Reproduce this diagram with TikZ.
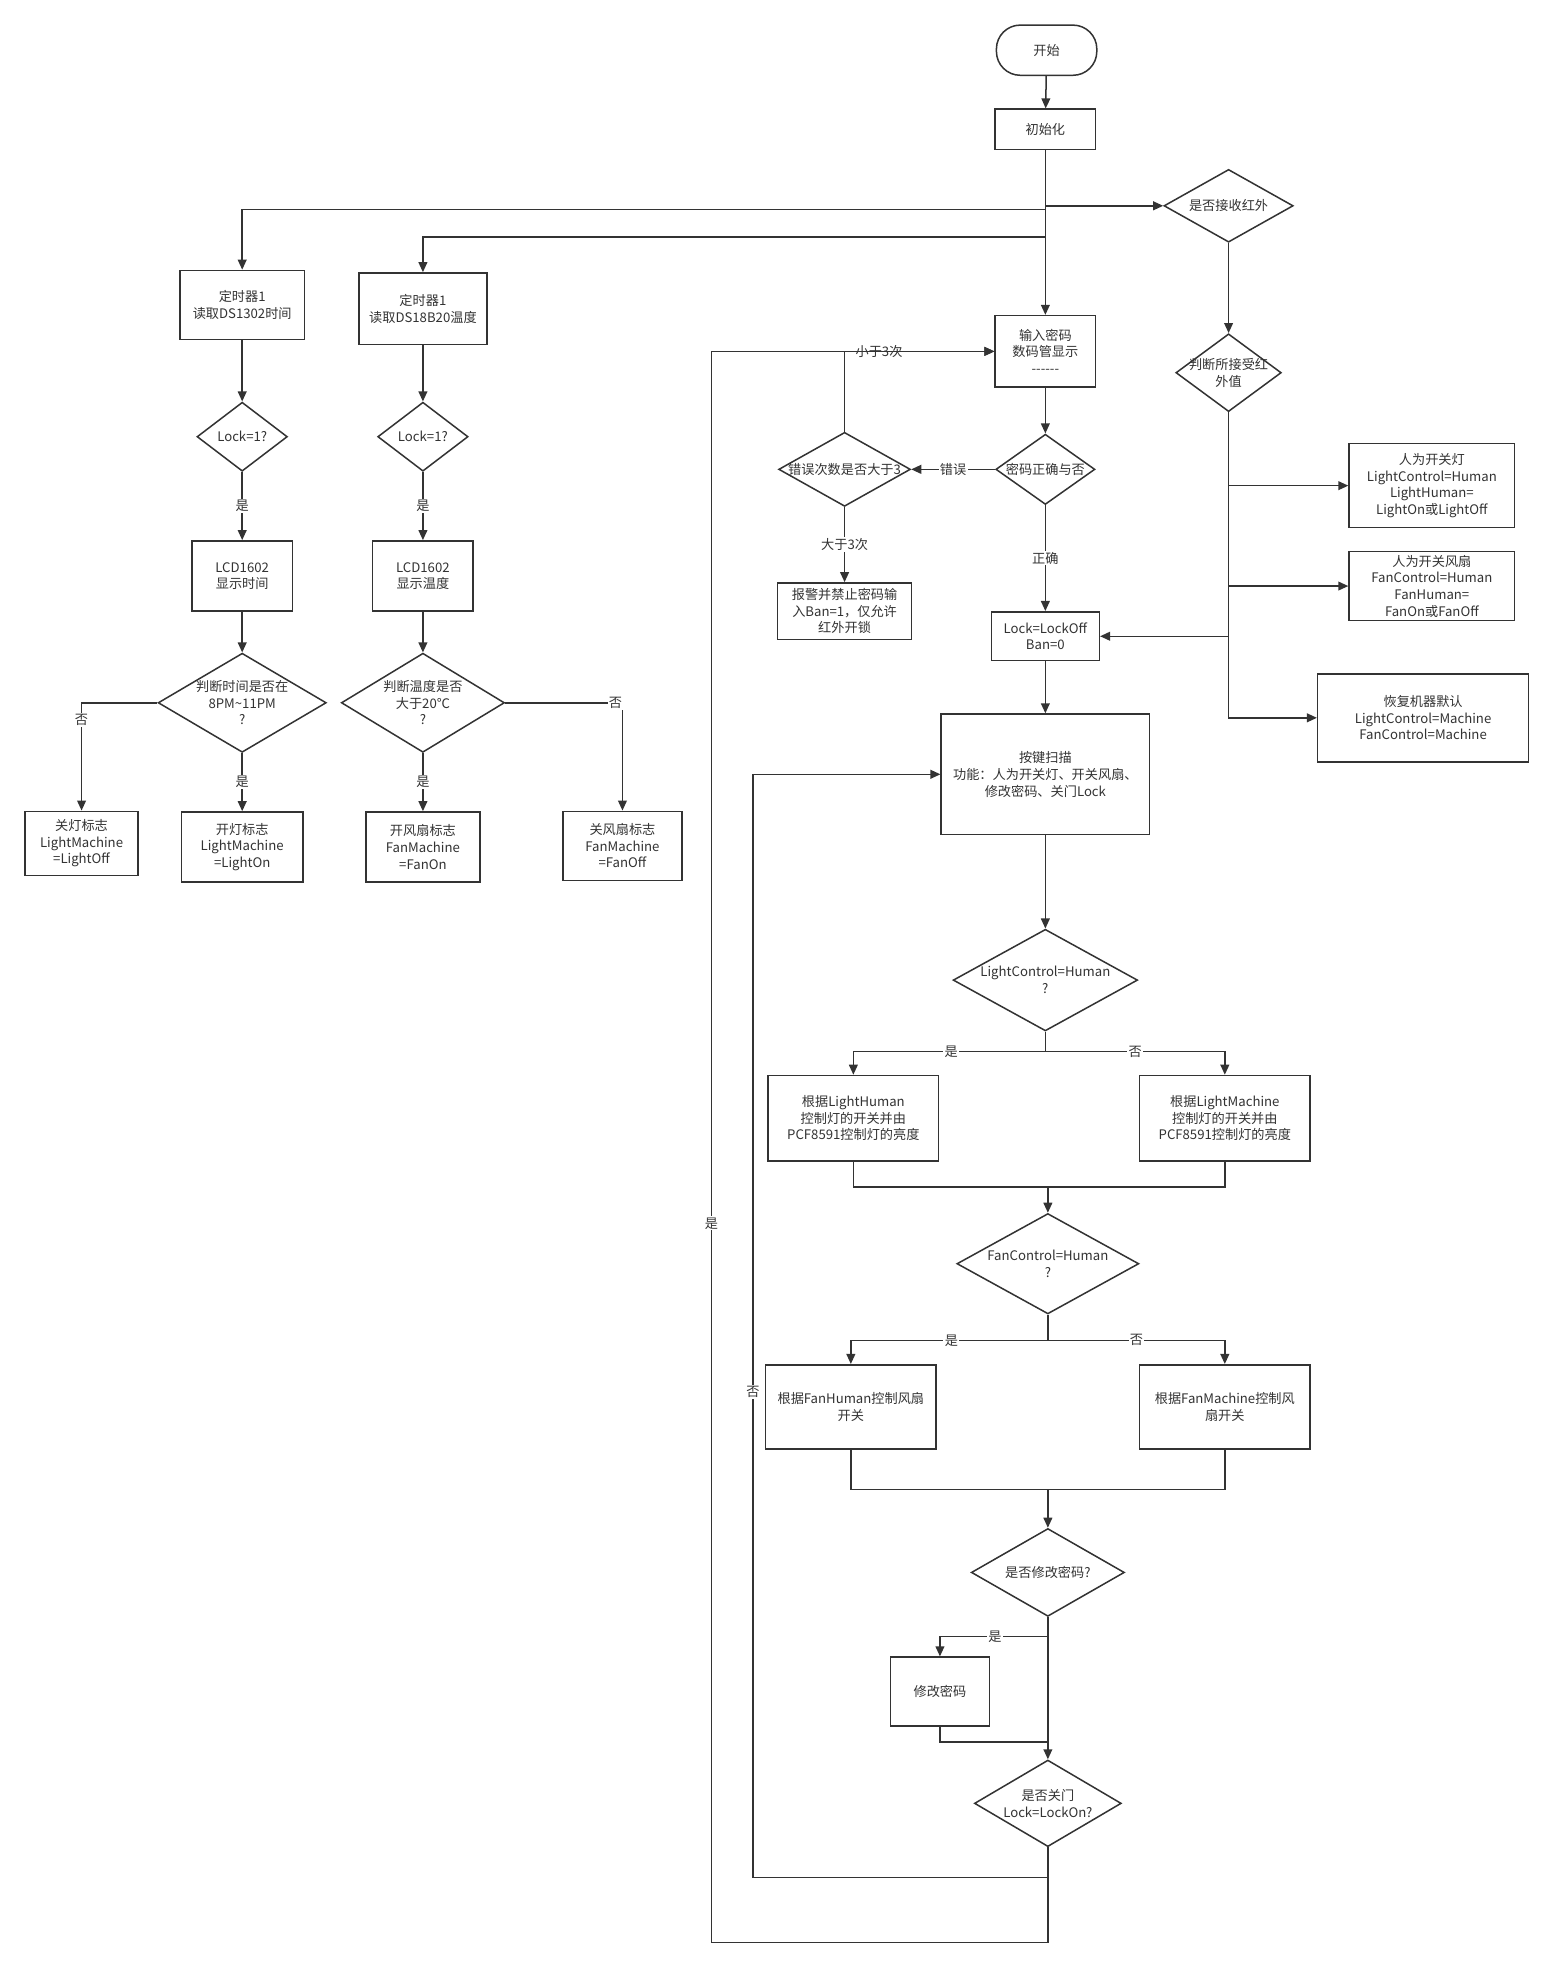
\documentclass[tikz,border=0pt]{standalone}
\usepackage{fontspec}
\setmainfont{Noto Sans CJK SC}
\usetikzlibrary{shapes.geometric, arrows.meta}
\definecolor{ink}{HTML}{333333}

\begin{document}
\begin{tikzpicture}[x=1pt, y=-1pt, >={Triangle[length=8pt, width=7pt]},
    line width=1.2pt, color=ink, font=\fontsize{10.5}{13.3}\selectfont,
    proc/.style={draw, rectangle, align=center, inner sep=2pt},
    term/.style={draw, rectangle, rounded corners=19pt, align=center},
    decide/.style={draw, diamond, inner sep=0pt},
    lbl/.style={fill=white, inner sep=1pt}] % Setting global styles

    \fill[white, use as bounding box] (0,0) rectangle (1240,1573);

    % 1. Start, init and the password entry
    \node[term, minimum width=80, minimum height=40] (start) at (834,40) {开始};
    \node[proc, minimum width=80, minimum height=32] (init) at (833,103) {初始化};
    \node[proc, minimum width=80, minimum height=57] (pwd) at (833,280) {输入密码\\数码管显示\\-{}-{}-{}-{}-{}-};
    \node[decide, minimum width=79, minimum height=56, label={[align=center]center:{密码正确与否}}] (chk) at (833,374) {};
    \node[decide, minimum width=105, minimum height=59, label={[align=center]center:{错误次数是否大于3}}] (cnt) at (673,374) {};
    \node[proc, minimum width=107, minimum height=45] (alarm) at (673,487) {报警并禁止密码输\\入Ban=1，仅允许\\红外开锁};
    \node[proc, minimum width=86, minimum height=39] (unlock) at (833,507) {Lock=LockOff\\Ban=0};

    % 2. Timer columns: time and temperature
    \node[proc, minimum width=99, minimum height=55] (tim1) at (193,243) {定时器1\\读取DS1302时间};
    \node[proc, minimum width=102, minimum height=57] (tim2) at (337,246) {定时器1\\读取DS18B20温度};
    \node[decide, minimum width=72, minimum height=55, label={center:{Lock=1?}}] (lock1) at (193,348) {};
    \node[decide, minimum width=72, minimum height=55, label={center:{Lock=1?}}] (lock2) at (337,348) {};
    \node[proc, minimum width=80, minimum height=56] (lcd1) at (193,459) {LCD1602\\显示时间};
    \node[proc, minimum width=80, minimum height=56] (lcd2) at (337,459) {LCD1602\\显示温度};
    \node[decide, minimum width=134, minimum height=79, label={[align=center]center:{判断时间是否在\\8PM\textasciitilde11PM\\?}}] (tjudge) at (193,560) {};
    \node[decide, minimum width=130, minimum height=79, label={[align=center]center:{判断温度是否\\大于20℃\\?}}] (hjudge) at (337,560) {};
    \node[proc, minimum width=90, minimum height=51] (offlight) at (65,672) {关灯标志\\LightMachine\\=LightOff};
    \node[proc, minimum width=97, minimum height=56] (onlight) at (193,675) {开灯标志\\LightMachine\\=LightOn};
    \node[proc, minimum width=91, minimum height=56] (fanon) at (337,675) {开风扇标志\\FanMachine\\=FanOn};
    \node[proc, minimum width=95, minimum height=55] (fanoff) at (496,674) {关风扇标志\\FanMachine\\=FanOff};

    % 3. Infrared branch
    \node[decide, minimum width=103, minimum height=58, label={center:{是否接收红外}}] (irq) at (979,164) {};
    \node[decide, minimum width=84, minimum height=62, label={[align=center]center:{判断所接受红\\外值}}] (irv) at (979,297) {};
    \node[proc, minimum width=132, minimum height=67] (lhbox) at (1141,387) {人为开关灯\\LightControl=Human\\LightHuman=\\LightOn或LightOff};
    \node[proc, minimum width=132, minimum height=55] (fhbox) at (1141,467) {人为开关风扇\\FanControl=Human\\FanHuman=\\FanOn或FanOff};
    \node[proc, minimum width=168, minimum height=70] (reset) at (1134,572) {恢复机器默认\\LightControl=Machine\\FanControl=Machine};

    % 4. Main loop: key scan, light, fan, password, door
    \node[proc, minimum width=166, minimum height=96] (scan) at (833,617) {按键扫描\\功能：人为开关灯、开关风扇、\\修改密码、关门Lock};
    \node[decide, minimum width=147, minimum height=81, label={[align=center]center:{LightControl=Human\\?}}] (lc) at (833,781) {};
    \node[proc, minimum width=136, minimum height=68] (lhum) at (680,891) {根据LightHuman\\控制灯的开关并由\\PCF8591控制灯的亮度};
    \node[proc, minimum width=136, minimum height=68] (lmac) at (976,891) {根据LightMachine\\控制灯的开关并由\\PCF8591控制灯的亮度};
    \node[decide, minimum width=145, minimum height=80, label={[align=center]center:{FanControl=Human\\?}}] (fc) at (835,1007) {};
    \node[proc, minimum width=136, minimum height=67] (fhum) at (678,1121) {根据FanHuman控制风扇\\开关};
    \node[proc, minimum width=136, minimum height=67] (fmac) at (976,1121) {根据FanMachine控制风\\扇开关};
    \node[decide, minimum width=122, minimum height=70, label={center:{是否修改密码?}}] (chg) at (835,1253) {};
    \node[proc, minimum width=79, minimum height=55] (mod) at (749,1348) {修改密码};
    \node[decide, minimum width=117, minimum height=69, label={[align=center]center:{是否关门\\Lock=LockOn?}}] (door) at (835,1437) {};

    % junction points on the lines
    \coordinate (j1) at (833,167);
    \coordinate (j2) at (833,189);
    \coordinate (lcj) at (833,838);
    \coordinate (lm) at (835,946);
    \coordinate (fcj) at (835,1068);
    \coordinate (fm) at (835,1187);
    \coordinate (chgj) at (835,1304);
    \coordinate (modj) at (835,1388);
    \coordinate (dr1) at (835,1496);
    \coordinate (dr2) at (835,1548);
    \coordinate (nol) at (600,1496);
    \coordinate (yesl) at (567,1548);

    % 5. Connectors: spine and branches from init
    \draw[->] (start) -- (init);
    \draw[->] (init) -- (pwd);
    \draw[->] (init.south |- irq.west) -- (irq.west);
    \draw[->] (j1) -| (tim1.north);
    \draw[->] (j2) -| (tim2.north);

    % time column
    \draw[->] (tim1) -- (lock1);
    \draw[->] (lock1) -- node[lbl] {是} (lcd1);
    \draw[->] (lcd1) -- (tjudge);
    \draw[->] (tjudge.west) -| node[lbl, pos=0.58] {否} (offlight.north);
    \draw[->] (tjudge) -- node[lbl] {是} (onlight);

    % temperature column
    \draw[->] (tim2) -- (lock2);
    \draw[->] (lock2) -- node[lbl] {是} (lcd2);
    \draw[->] (lcd2) -- (hjudge);
    \draw[->] (hjudge) -- node[lbl] {是} (fanon);
    \draw[->] (hjudge.east) -| node[lbl, pos=0.47] {否} (fanoff.north);

    % password check
    \draw[->] (pwd) -- (chk);
    \draw[->] (chk) -- node[lbl] {错误} (cnt);
    \draw[->] (cnt) -- node[lbl] {大于3次} (alarm);
    \draw[->] (cnt.north) |- node[lbl, pos=0.615] {小于3次} (pwd.west);
    \draw[->] (chk) -- node[lbl] {正确} (unlock);
    \draw[->] (unlock) -- (scan);

    % infrared values
    \draw[->] (irq) -- (irv);
    \draw[->] (irv.south) |- (lhbox.west);
    \draw[->] (irv.south) |- (fhbox.west);
    \draw[->] (irv.south) |- (reset.west);
    \draw[->] (irv.south |- unlock.east) -- (unlock.east);

    % light control
    \draw[->] (scan) -- (lc);
    \draw (lc) -- (lcj);
    \draw[->] (lcj) -| node[lbl, pos=0.245] {是} (lhum.north);
    \draw[->] (lcj) -| node[lbl, pos=0.25] {否} (lmac.north);
    \draw (lhum.south) |- (lm) -| (lmac.south);
    \draw[->] (lm) -- (fc);

    % fan control
    \draw (fc) -- (fcj);
    \draw[->] (fcj) -| node[lbl, pos=0.245] {是} (fhum.north);
    \draw[->] (fcj) -| node[lbl, pos=0.25] {否} (fmac.north);
    \draw (fhum.south) |- (fm) -| (fmac.south);
    \draw[->] (fm) -- (chg);

    % change password and door
    \draw (chg) -- (chgj);
    \draw[->] (chgj) -| node[lbl, pos=0.245] {是} (mod.north);
    \draw[->] (chgj) -- (door);
    \draw (mod.south) |- (modj);
    \draw (door.south) -- (dr2);
    \draw[->] (dr1) -- (nol) |- node[lbl, pos=0.22] {否} (scan.west);
    \draw[->] (dr2) -- (yesl) |- node[lbl, pos=0.226] {是} (pwd.west);
\end{tikzpicture}
\end{document}
